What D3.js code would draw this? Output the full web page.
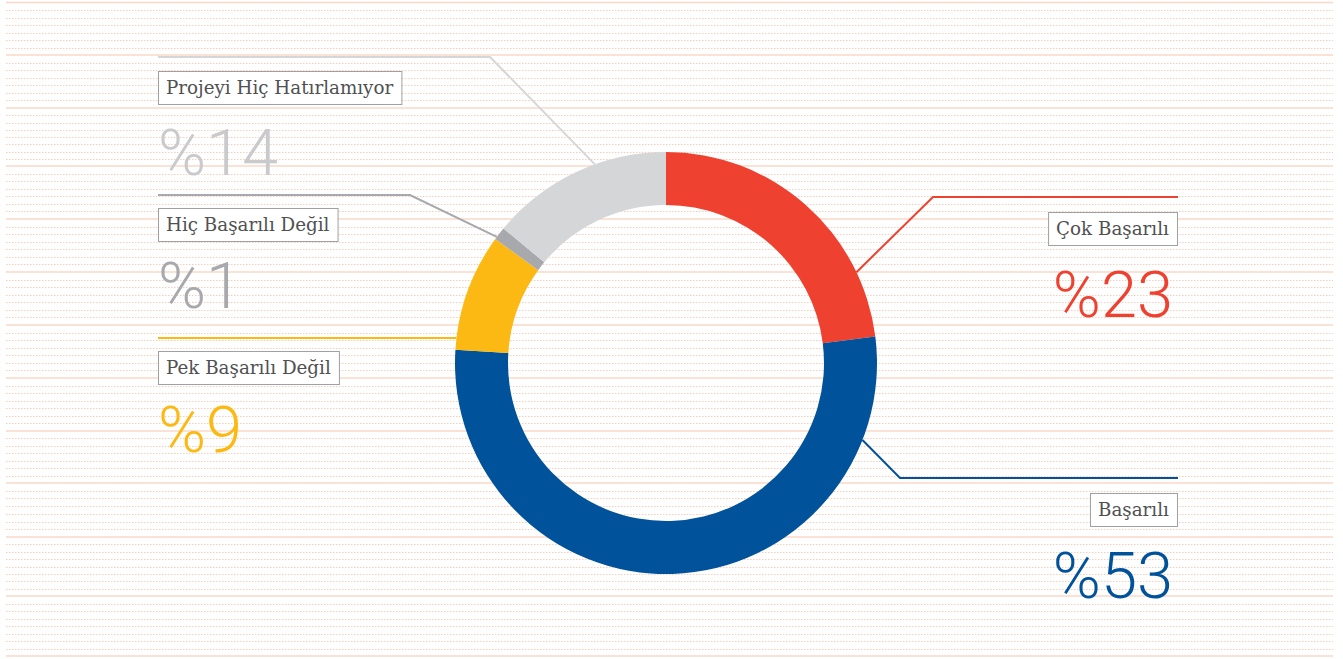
<!DOCTYPE html>
<html>
<head>
<meta charset="utf-8">
<script src="https://cdn.jsdelivr.net/npm/d3@7"></script>
<style>
  html, body { margin: 0; padding: 0; background: #ffffff; }
  svg { display: block; }
</style>
</head>
<body>
<svg id="chart" width="1343" height="659"></svg>
<script>
// ---- data ----
const categories = ["Çok Başarılı", "Başarılı", "Pek Başarılı Değil", "Hiç Başarılı Değil", "Projeyi Hiç Hatırlamıyor"];
const values = [23, 53, 9, 1, 14];
const valueLabels = ["%23", "%53", "%9", "%1", "%14"];
const colors = ["#EF4130", "#00529B", "#FDB913", "#A7A9AC", "#D5D6D8"];
const textColors = ["#EF4130", "#00529B", "#FDB913", "#A7A9AC", "#C9CACC"];

// ---- layout (positions, not data) ----
const W = 1343, H = 659;
const cx = 666, cy = 363, rOuter = 211, rInner = 158;
const solidRules = [2.5, 55, 108, 166, 219, 272, 325, 378, 431, 483, 537, 596, 656];
const layout = [
  { side: "right", leadAngle: 64.5, elbow: [933, 197], endX: 1178, boxY: 212, boxX: 1177, valY: 317, valX: 1173 },
  { side: "right", leadAngle: 111.4, elbow: [900, 478], endX: 1178, boxY: 493, boxX: 1177, valY: 598, valX: 1173 },
  { side: "left", leadAngle: 276.8, elbow: null, endX: 158, boxY: 351, boxX: 158, valY: 452, valX: 158 },
  { side: "left", leadAngle: 306.7, elbow: [410, 195], endX: 158, boxY: 208, boxX: 158, valY: 308, valX: 158 },
  { side: "left", leadAngle: 340.3, elbow: [490, 57], endX: 158, boxY: 71, boxX: 158, valY: 175, valX: 158 }
];

const svg = d3.select("#chart");

// ---- background ruled lines ----
const bg = svg.append("g");
const dotted = [];
for (let i = 0; i < solidRules.length - 1; i++) {
  const a = solidRules[i], b = solidRules[i + 1];
  const n = Math.round((b - a) / 7.5);
  for (let k = 1; k < n; k++) dotted.push(a + (b - a) * k / n);
}
bg.selectAll("line.dot").data(dotted).join("line")
  .attr("x1", 6).attr("x2", 1333)
  .attr("y1", d => Math.round(d) + 0.5).attr("y2", d => Math.round(d) + 0.5)
  .attr("stroke", "#F7C6AE").attr("stroke-width", 1)
  .attr("stroke-dasharray", "1.5,1.5").attr("opacity", 0.85);
bg.selectAll("line.solid").data(solidRules).join("line")
  .attr("x1", 6).attr("x2", 1333)
  .attr("y1", d => d).attr("y2", d => d)
  .attr("stroke", "#FBD8C6").attr("stroke-width", 1.6);

// ---- leader lines ----
const rad = a => a * Math.PI / 180;
const leaders = svg.append("g");
layout.forEach((L, i) => {
  const sx = cx + rOuter * Math.sin(rad(L.leadAngle));
  const sy = cy - rOuter * Math.cos(rad(L.leadAngle));
  const pts = [[sx, sy]];
  if (L.elbow) pts.push(L.elbow);
  const ly = L.elbow ? L.elbow[1] : sy;
  pts.push([L.endX, ly]);
  leaders.append("path")
    .attr("d", d3.line()(pts))
    .attr("fill", "none")
    .attr("stroke", colors[i])
    .attr("stroke-width", 2);
});

// ---- donut ----
const pie = d3.pie().sort(null).value(d => d)(values);
const arc = d3.arc().innerRadius(rInner).outerRadius(rOuter);
svg.append("g").attr("transform", `translate(${cx},${cy})`)
  .selectAll("path").data(pie).join("path")
  .attr("d", arc)
  .attr("fill", (d, i) => colors[i]);

// ---- label boxes and values ----
const labG = svg.append("g");
categories.forEach((c, i) => {
  const L = layout[i];
  const g = labG.append("g");
  const t = g.append("text")
    .attr("font-family", "'DejaVu Serif', serif")
    .attr("font-size", 18.3)
    .attr("fill", "#505052")
    .text(c);
  const bb = t.node().getBBox();
  const padX = 8, bh = 33;
  const bw = bb.width + padX * 2;
  const bx = L.side === "left" ? L.boxX : L.boxX - bw;
  g.insert("rect", "text")
    .attr("x", bx + 0.5).attr("y", L.boxY + 0.5)
    .attr("width", bw).attr("height", bh)
    .attr("fill", "#ffffff").attr("stroke", "#A0A0A2").attr("stroke-width", 1);
  t.attr("x", bx + padX).attr("y", L.boxY + 23);

  labG.append("text")
    .attr("x", L.valX).attr("y", L.valY)
    .attr("text-anchor", L.side === "left" ? "start" : "end")
    .attr("font-family", "Roboto, sans-serif")
    .attr("font-weight", 300)
    .attr("font-size", 65)
    .attr("fill", textColors[i])
    .text(valueLabels[i]);
});
</script>
</body>
</html>
